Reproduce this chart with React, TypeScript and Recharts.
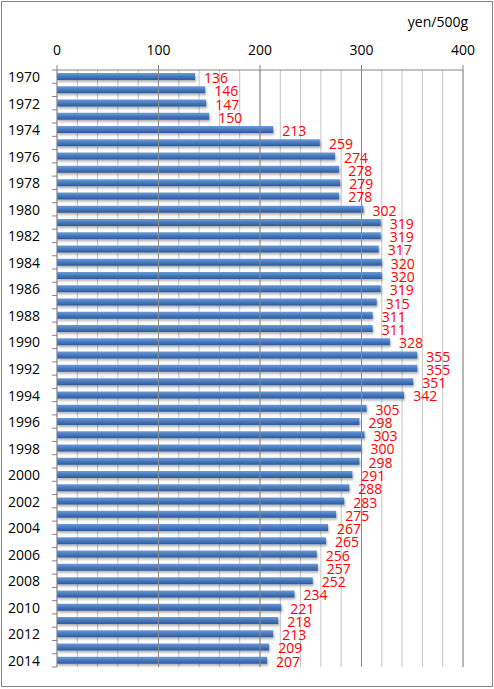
import React from 'react';
import { BarChart, Bar, XAxis, YAxis, CartesianGrid, ReferenceLine, LabelList } from 'recharts';

const years = [
  1970, 1971, 1972, 1973, 1974, 1975, 1976, 1977, 1978, 1979,
  1980, 1981, 1982, 1983, 1984, 1985, 1986, 1987, 1988, 1989,
  1990, 1991, 1992, 1993, 1994, 1995, 1996, 1997, 1998, 1999,
  2000, 2001, 2002, 2003, 2004, 2005, 2006, 2007, 2008, 2009,
  2010, 2011, 2012, 2013, 2014,
];

const prices = [
  136, 146, 147, 150, 213, 259, 274, 278, 279, 278,
  302, 319, 319, 317, 320, 320, 319, 315, 311, 311,
  328, 355, 355, 351, 342, 305, 298, 303, 300, 298,
  291, 288, 283, 275, 267, 265, 256, 257, 252, 234,
  221, 218, 213, 209, 207,
];

const xTicks = [0, 20, 40, 60, 80, 100, 120, 140, 160, 180, 200, 220, 240, 260, 280, 300, 320, 340, 360, 380, 400];
const majorTicks = [100, 200, 300, 400];

const data = years.map((y, i) => ({ year: String(y), price: prices[i] }));

const FONT = '"Open Sans", sans-serif';
const W = 494;
const H = 689;
const PLOT_LEFT = 57;
const PLOT_TOP = 70;
const PLOT_BOTTOM = 667;
const BAND = (PLOT_BOTTOM - PLOT_TOP) / years.length;

const XTick = (props: any) => {
  const { x, payload } = props;
  if (payload.value % 100 !== 0) return null;
  return (
    <g>
      <line x1={x} x2={x} y1={PLOT_TOP - 5} y2={PLOT_TOP} stroke="#868686" />
      <text x={x} y={49} textAnchor="middle" dominantBaseline="central" fontSize={14} fontFamily={FONT} fill="#000">
        {payload.value}
      </text>
    </g>
  );
};

const YTick = (props: any) => {
  const { y, payload, index } = props;
  const top = y - BAND / 2;
  return (
    <g>
      <line x1={PLOT_LEFT - 5} x2={PLOT_LEFT} y1={top} y2={top} stroke="#868686" />
      {index === years.length - 1 && (
        <line x1={PLOT_LEFT - 5} x2={PLOT_LEFT} y1={top + BAND} y2={top + BAND} stroke="#868686" />
      )}
      {index % 2 === 0 && (
        <text x={8} y={y} dominantBaseline="central" fontSize={14} fontFamily={FONT} fill="#000">
          {payload.value}
        </text>
      )}
    </g>
  );
};

const ValueLabel = (props: any) => {
  const { x, y, width, height, value } = props;
  return (
    <text x={x + width + 9} y={y + height / 2 + 1} dominantBaseline="central" fontSize={14} fontFamily={FONT} fill="#ff0000">
      {value}
    </text>
  );
};

export default function App() {
  return (
    <div style={{ position: 'absolute', left: 0, top: 0, width: W, height: H, background: '#fff' }}>
      <div style={{ position: 'absolute', left: 1, top: 1, width: 490, height: 684, border: '1px solid #868686' }} />
      <div style={{ position: 'absolute', right: 26, top: 12, fontSize: 14, fontFamily: FONT, color: '#000', lineHeight: '20px' }}>
        yen/500g
      </div>
      <BarChart
        width={W}
        height={H}
        data={data}
        layout="vertical"
        margin={{ top: 0, right: 31, left: 0, bottom: H - PLOT_BOTTOM }}
        barCategoryGap={0}
      >
        <defs>
          <linearGradient id="barFill" x1="0" y1="0" x2="0" y2="1">
            <stop offset="0%" stopColor="#6f9ad6" />
            <stop offset="45%" stopColor="#4a7cc0" />
            <stop offset="100%" stopColor="#2d5a9a" />
          </linearGradient>
          <filter id="barShadow" x="-5%" y="-50%" width="110%" height="250%">
            <feDropShadow dx="1" dy="2" stdDeviation="1" floodColor="#000" floodOpacity="0.3" />
          </filter>
        </defs>
        <CartesianGrid vertical horizontal={false} stroke="#c4c4c4" />
        {majorTicks.map((t) => (
          <ReferenceLine key={t} x={t} stroke="#8a8a8a" />
        ))}
        <XAxis
          type="number"
          orientation="top"
          domain={[0, 400]}
          ticks={xTicks}
          interval={0}
          height={PLOT_TOP}
          axisLine={{ stroke: '#868686' }}
          tickLine={false}
          tick={<XTick />}
        />
        <YAxis
          type="category"
          dataKey="year"
          width={PLOT_LEFT}
          interval={0}
          axisLine={{ stroke: '#868686' }}
          tickLine={false}
          tick={<YTick />}
        />
        <Bar dataKey="price" barSize={7} fill="url(#barFill)" filter="url(#barShadow)" isAnimationActive={false}>
          <LabelList dataKey="price" content={<ValueLabel />} />
        </Bar>
      </BarChart>
    </div>
  );
}
